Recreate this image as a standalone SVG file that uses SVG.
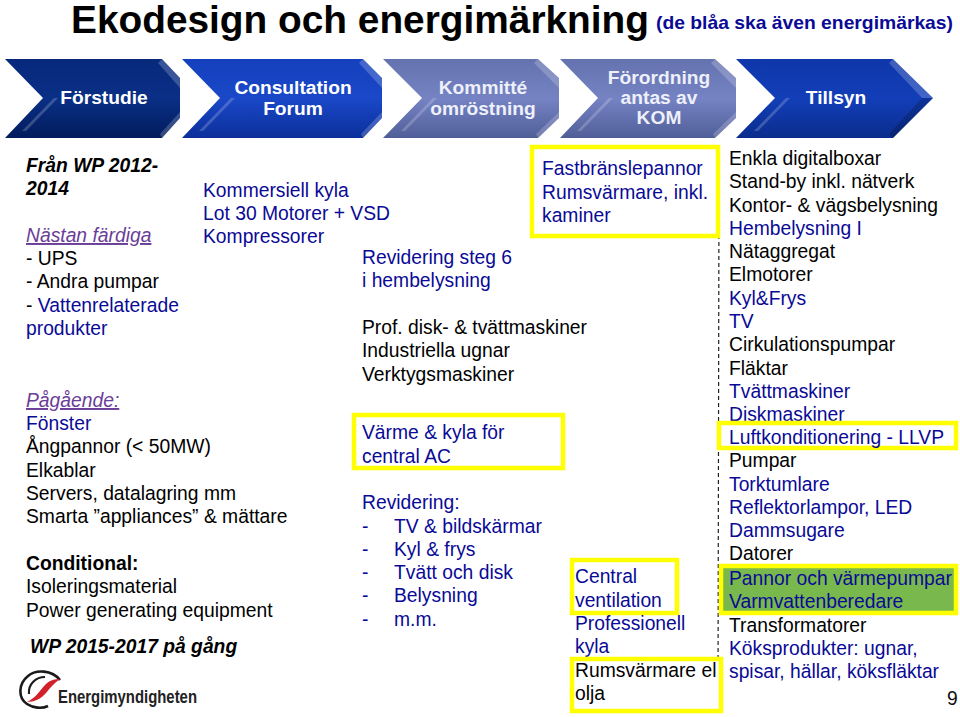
<svg xmlns="http://www.w3.org/2000/svg" width="960" height="717" viewBox="0 0 960 717">
<style>
text{font-family:"Liberation Sans",Arial,sans-serif;font-size:19.3px;fill:#000}
.b{fill:#0a0a96}
.k{fill:#111}
.p{fill:#6a3d98;font-style:italic;text-decoration:underline}
.bi{font-weight:bold;font-style:italic}
.h{font-weight:bold;fill:#fff;text-anchor:middle;font-size:19.2px}
.h2{font-weight:bold;fill:#eef0fa;text-anchor:middle;font-size:19.2px}
.y{fill:none;stroke:#ffff00;stroke-width:4.5}
.yw{fill:#fff;stroke:#ffff00;stroke-width:4.5}
.lite{fill:#fff;opacity:.2}
.dark{fill:#000;opacity:.18}
</style>
<defs>
<linearGradient id="g1" x1="0" y1="0" x2="0" y2="1"><stop offset="0" stop-color="#07297c"/><stop offset=".5" stop-color="#0a2f86"/><stop offset="1" stop-color="#021c5c"/></linearGradient>
<linearGradient id="g2" x1="0" y1="0" x2="0" y2="1"><stop offset="0" stop-color="#1540bd"/><stop offset=".5" stop-color="#1a48c8"/><stop offset="1" stop-color="#0c2f9a"/></linearGradient>
<linearGradient id="g3" x1="0" y1="0" x2="0" y2="1"><stop offset="0" stop-color="#6473ae"/><stop offset=".5" stop-color="#7583c4"/><stop offset="1" stop-color="#505e98"/></linearGradient>
<linearGradient id="g5" x1="0" y1="0" x2="0" y2="1"><stop offset="0" stop-color="#0f37aa"/><stop offset=".5" stop-color="#123eb8"/><stop offset="1" stop-color="#0a2c8c"/></linearGradient>
</defs>

<g id="title">
<text x="71" y="33" style="font-size:38px;font-weight:bold" textLength="578" lengthAdjust="spacingAndGlyphs">Ekodesign och energimärkning</text>
<text x="656" y="29" class="b" style="font-size:19px;font-weight:bold" textLength="297" lengthAdjust="spacingAndGlyphs">(de blåa ska även energimärkas)</text>
</g>

<g id="step-forstudie">
<polygon points="5,59 162,59 180,78 180,118 162,138 5,138 43,98" fill="url(#g1)"/>
<polygon class="lite" points="162,59 180,78 180,88 158,63"/>
<polygon class="lite" points="180,112 180,118 162,138 160,134"/>
<polygon class="lite" points="54,98 22,131 26,131 58,98"/>
<text x="104" y="104" class="h">Förstudie</text>
</g>
<g id="step-consultation">
<polygon points="182,59 363,59 382,78 382,118 363,138 182,138 220,98" fill="url(#g2)"/>
<polygon class="lite" points="363,59 382,78 382,88 359,63"/>
<polygon class="lite" points="382,112 382,118 363,138 361,134"/>
<polygon class="lite" points="231,98 199,131 203,131 235,98"/>
<text x="293" y="94" class="h">Consultation</text><text x="293" y="115" class="h">Forum</text>
</g>
<g id="step-kommitte">
<polygon points="383,59 538,59 559,78 559,118 538,138 383,138 422,98" fill="url(#g3)"/>
<polygon class="lite" points="538,59 559,78 559,88 534,63"/>
<polygon class="lite" points="559,112 559,118 538,138 536,134"/>
<polygon class="lite" points="433,98 401,131 405,131 437,98"/>
<text x="483" y="94" class="h2">Kommitté</text><text x="483" y="115" class="h2">omröstning</text>
</g>
<g id="step-forordning">
<polygon points="560,59 715,59 736,78 736,118 715,138 560,138 598,98" fill="url(#g3)"/>
<polygon class="lite" points="715,59 736,78 736,88 711,63"/>
<polygon class="lite" points="736,112 736,118 715,138 713,134"/>
<polygon class="lite" points="609,98 577,131 581,131 613,98"/>
<text x="659" y="84" class="h2">Förordning</text><text x="659" y="104" class="h2">antas av</text><text x="659" y="124" class="h2">KOM</text>
</g>
<g id="step-tillsyn">
<polygon points="736,59 893,59 933,98 893,138 736,138 775,98" fill="url(#g5)"/>
<polygon class="lite" points="893,59 933,98 922,98 889,63"/>
<polygon class="dark" points="933,98 893,138 889,134 922,98"/>
<polygon class="lite" points="786,98 754,131 758,131 790,98"/>
<text x="836" y="104" class="h">Tillsyn</text>
</g>

<g id="connectors">
<line x1="719" y1="186" x2="718" y2="692" stroke="#222" stroke-width="1.2" stroke-dasharray="4 3"/>
</g>

<g id="col-left">
<text x="26" y="172" class="bi">Från WP 2012-</text>
<text x="26" y="195" class="bi">2014</text>
<text x="26" y="242" class="p">Nästan färdiga</text>
<text x="26" y="265">- UPS</text>
<text x="26" y="288">- Andra pumpar</text>
<text x="26" y="312">- <tspan class="b">Vattenrelaterade</tspan></text>
<text x="26" y="335" class="b">produkter</text>
<text x="26" y="407" class="p">Pågående:</text>
<text x="26" y="430" class="b">Fönster</text>
<text x="26" y="453">Ångpannor (&lt; 50MW)</text>
<text x="26" y="477">Elkablar</text>
<text x="26" y="500">Servers, datalagring mm</text>
<text x="26" y="523">Smarta ”appliances” &amp; mättare</text>
<text x="26" y="570" style="font-weight:bold">Conditional:</text>
<text x="26" y="593">Isoleringsmaterial</text>
<text x="26" y="617">Power generating equipment</text>
<text x="30" y="653" class="bi">WP 2015-2017 på gång</text>
</g>

<g id="col-kommersiell">
<text x="203" y="197" class="b">Kommersiell kyla</text>
<text x="203" y="220" class="b">Lot 30 Motorer + VSD</text>
<text x="203" y="243" class="b">Kompressorer</text>
</g>

<g id="col-mid">
<text x="362" y="264" class="b">Revidering steg 6</text>
<text x="362" y="287" class="b">i hembelysning</text>
<text x="362" y="334">Prof. disk- &amp; tvättmaskiner</text>
<text x="362" y="357">Industriella ugnar</text>
<text x="362" y="381">Verktygsmaskiner</text>
</g>

<g id="box-varme">
<rect class="y" x="354" y="415" width="209" height="53"/>
<text x="362" y="439" class="b">Värme &amp; kyla för</text>
<text x="362" y="463" class="b">central AC</text>
</g>

<g id="col-revidering">
<text x="362" y="509" class="b">Revidering:</text>
<text x="362" y="533" class="b">-</text><text x="394" y="533" class="b">TV &amp; bildskärmar</text>
<text x="362" y="556" class="b">-</text><text x="394" y="556" class="b">Kyl &amp; frys</text>
<text x="362" y="579" class="b">-</text><text x="394" y="579" class="b">Tvätt och disk</text>
<text x="362" y="602" class="b">-</text><text x="394" y="602" class="b">Belysning</text>
<text x="362" y="626" class="b">-</text><text x="394" y="626" class="b">m.m.</text>
</g>

<g id="box-fastbransle">
<rect class="y" x="532" y="147" width="186" height="89"/>
<text x="542" y="175" class="b">Fastbränslepannor</text>
<text x="542" y="199" class="b">Rumsvärmare, inkl.</text>
<text x="542" y="222" class="b">kaminer</text>
</g>

<g id="box-central">
<rect class="y" x="572" y="560" width="105" height="53"/>
<text x="575" y="583" class="b">Central</text>
<text x="575" y="607" class="b">ventilation</text>
</g>
<g id="col-prof">
<text x="575" y="630" class="b">Professionell</text>
<text x="575" y="653" class="b">kyla</text>
</g>
<g id="box-rumsvarmare">
<rect class="yw" x="572" y="659" width="149" height="52"/>
<text x="575" y="677">Rumsvärmare el</text>
<text x="575" y="700">olja</text>
</g>

<g id="col-right">
<text x="729" y="165">Enkla digitalboxar</text>
<text x="729" y="188">Stand-by inkl. nätverk</text>
<text x="729" y="212">Kontor- &amp; vägsbelysning</text>
<text x="729" y="235" class="b">Hembelysning I</text>
<text x="729" y="258">Nätaggregat</text>
<text x="729" y="281">Elmotorer</text>
<text x="729" y="305" class="b">Kyl&amp;Frys</text>
<text x="729" y="328" class="b">TV</text>
<text x="729" y="351">Cirkulationspumpar</text>
<text x="729" y="375">Fläktar</text>
<text x="729" y="398" class="b">Tvättmaskiner</text>
<text x="729" y="421" class="b">Diskmaskiner</text>
</g>
<g id="box-luft">
<rect class="yw" x="719" y="423" width="237" height="25"/>
<text x="729" y="444" class="b">Luftkonditionering - LLVP</text>
</g>
<g id="col-right-2">
<text x="729" y="467">Pumpar</text>
<text x="729" y="491" class="b">Torktumlare</text>
<text x="729" y="514" class="b">Reflektorlampor, LED</text>
<text x="729" y="537" class="b">Dammsugare</text>
<text x="729" y="560">Datorer</text>
</g>
<g id="box-pannor">
<rect x="721" y="566" width="235" height="47" fill="#79b84c" stroke="#ffff00" stroke-width="4.5"/>
<text x="729" y="585" class="b">Pannor och värmepumpar</text>
<text x="729" y="608" class="b">Varmvattenberedare</text>
</g>
<g id="col-right-3">
<text x="729" y="632">Transformatorer</text>
<text x="729" y="655" class="b">Köksprodukter: ugnar,</text>
<text x="729" y="678" class="b">spisar, hällar, köksfläktar</text>
</g>

<g id="logo">
<path d="M60,680 C52,670 36,669 28,676 C18,684 18,698 27,704 C33,708 42,709 48,706" fill="none" stroke="#1a1a1a" stroke-width="2.6"/>
<path d="M45,677 C36,677 28,684 29,694" fill="none" stroke="#1a1a1a" stroke-width="2.2"/>
<path d="M27,702 C36,698 40,690 46,684 C50,680 55,679 60,679 C54,683 50,688 46,693 C41,699 34,702 27,702 Z" fill="#d2202c"/>
<text x="58" y="703" style="font-size:18px;font-weight:bold;fill:#222" textLength="139" lengthAdjust="spacingAndGlyphs">Energimyndigheten</text>
</g>

<text id="page" x="947" y="705" class="k">9</text>
</svg>
